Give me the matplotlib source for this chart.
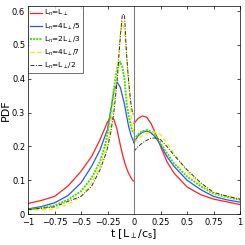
import numpy as np
import matplotlib
matplotlib.use('Agg')
from matplotlib import pyplot as plt

# time points (left of 0 and right of 0, the curves jump at t=0)
t_left = [-1, -0.875, -0.75, -0.625, -0.5, -0.4, -0.32, -0.28, -0.25, -0.22, -0.19, -0.16, -0.13, -0.11, -0.09, -0.07, -0.05, -0.03, -0.015, 0]
t_right = [0, 0.04, 0.08, 0.12, 0.16, 0.2, 0.25, 0.31, 0.38, 0.5, 0.63, 0.75, 0.875, 1]

red_l = [0.031, 0.040, 0.052, 0.082, 0.126, 0.170, 0.220, 0.250, 0.272, 0.287, 0.280, 0.250, 0.205, 0.178, 0.155, 0.135, 0.120, 0.108, 0.100, 0.097]
red_r = [0.268, 0.283, 0.290, 0.286, 0.268, 0.240, 0.200, 0.155, 0.120, 0.080, 0.057, 0.044, 0.036, 0.028]

blue_l = [0.015, 0.022, 0.033, 0.054, 0.092, 0.141, 0.190, 0.225, 0.250, 0.305, 0.360, 0.390, 0.375, 0.350, 0.325, 0.290, 0.258, 0.235, 0.222, 0.212]
blue_r = [0.210, 0.232, 0.242, 0.245, 0.240, 0.228, 0.205, 0.170, 0.140, 0.100, 0.072, 0.052, 0.042, 0.035]

green_l = [0.013, 0.018, 0.025, 0.042, 0.067, 0.107, 0.156, 0.195, 0.235, 0.300, 0.370, 0.430, 0.450, 0.435, 0.400, 0.330, 0.290, 0.260, 0.245, 0.238]
green_r = [0.220, 0.236, 0.245, 0.248, 0.244, 0.236, 0.210, 0.180, 0.149, 0.111, 0.082, 0.060, 0.050, 0.042]

yellow_l = [0.012, 0.013, 0.015, 0.028, 0.052, 0.092, 0.141, 0.180, 0.210, 0.260, 0.330, 0.420, 0.530, 0.570, 0.540, 0.470, 0.380, 0.300, 0.260, 0.240]
yellow_r = [0.213, 0.222, 0.231, 0.238, 0.242, 0.242, 0.235, 0.210, 0.178, 0.126, 0.087, 0.062, 0.052, 0.044]

black_l = [0.013, 0.017, 0.021, 0.037, 0.052, 0.082, 0.131, 0.165, 0.195, 0.240, 0.300, 0.390, 0.520, 0.590, 0.590, 0.470, 0.390, 0.330, 0.300, 0.290]
black_r = [0.185, 0.200, 0.210, 0.218, 0.224, 0.225, 0.220, 0.200, 0.173, 0.131, 0.092, 0.064, 0.053, 0.044]

labels = [r'L$_\mathregular{n}$=L$_\perp$', r'L$_\mathregular{n}$=4L$_\perp$/5', r'L$_\mathregular{n}$=2L$_\perp$/3',
          r'L$_\mathregular{n}$=4L$_\perp$/7', r'L$_\mathregular{n}$=L$_\perp$/2']

series = [(red_l, red_r), (blue_l, blue_r), (green_l, green_r), (yellow_l, yellow_r), (black_l, black_r)]
styles = [dict(color='#ff2020', ls='-', lw=0.9),
          dict(color='#3050ff', ls='-', lw=0.9),
          dict(color='#40e000', ls=(0, (1, 0.6)), lw=1.4),
          dict(color='#f0f000', ls=(0, (3, 2)), lw=1.0),
          dict(color='#303030', ls=(0, (4, 1.5, 1, 1.5)), lw=0.7)]

plt.rcParams['font.family'] = 'DejaVu Sans'
fig = plt.figure(figsize=(2.45, 2.45), dpi=100)
ax = fig.add_axes([28/245, 31/245, 212/245, 208/245])

t = np.array(t_left + [np.nan] + t_right)
for (yl, yr), st, lab in zip(series, styles, labels):
    y = np.array(yl + [np.nan] + yr)
    ax.plot(t, y, label=lab, **st)

ax.axvline(0, color='#808080', lw=0.8)
ax.set_xlim(-1, 1)
ax.set_ylim(0, 0.615)
ax.set_xticks([-1, -0.75, -0.5, -0.25, 0, 0.25, 0.5, 0.75, 1])
ax.set_xticklabels(['\u22121', '\u22120.75', '\u22120.5', '\u22120.25', '0', '0.25', '0.5', '0.75', '1'])
ax.set_yticks(np.arange(0, 0.61, 0.1))
ax.set_yticklabels(['0', '0.1', '0.2', '0.3', '0.4', '0.5', '0.6'])
ax.tick_params(direction='in', top=True, right=True, labelsize=6, length=2.5, width=0.5)
ax.tick_params(axis='x', pad=3)
ax.tick_params(axis='y', pad=2)
for s in ax.spines.values():
    s.set_linewidth(0.5)
ax.set_ylabel('PDF', fontsize=8, labelpad=1)
ax.set_xlabel(r't [L$_\perp$/c$_\mathregular{s}$]', fontsize=8, labelpad=0)

leg = ax.legend(loc='upper left', fontsize=5.3, frameon=True, fancybox=False, edgecolor='black',
                borderaxespad=0, handlelength=1.6, handletextpad=0.3, labelspacing=0.4, borderpad=0.3)
leg.get_frame().set_linewidth(0.5)

fig.savefig('out.png', dpi=100)
